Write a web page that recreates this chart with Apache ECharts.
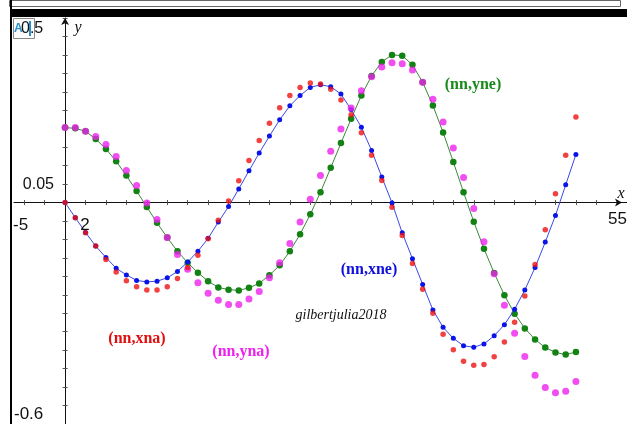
<!DOCTYPE html>
<html>
<head>
<meta charset="utf-8">
<script src="https://cdn.jsdelivr.net/npm/echarts@6/dist/echarts.min.js"></script>
<style>html,body{margin:0;padding:0;background:#fff;}#c{width:627px;height:424px;}</style>
</head>
<body>
<div id="c"></div>
<script>
// nn = 0..50
const nn = [0,1,2,3,4,5,6,7,8,9,10,11,12,13,14,15,16,17,18,19,20,21,22,23,24,25,26,27,28,29,30,31,32,33,34,35,36,37,38,39,40,41,42,43,44,45,46,47,48,49,50];
const xne = [0,-0.041,-0.081,-0.118,-0.149,-0.178,-0.196,-0.211,-0.215,-0.213,-0.204,-0.187,-0.161,-0.132,-0.097,-0.053,-0.011,0.037,0.086,0.134,0.180,0.224,0.262,0.290,0.312,0.319,0.314,0.294,0.252,0.204,0.141,0.069,-0.001,-0.082,-0.152,-0.222,-0.291,-0.338,-0.368,-0.388,-0.392,-0.383,-0.361,-0.331,-0.289,-0.237,-0.176,-0.107,-0.035,0.048,0.130];
const xna = [0,-0.041,-0.082,-0.118,-0.154,-0.188,-0.212,-0.228,-0.237,-0.237,-0.228,-0.206,-0.176,-0.143,-0.098,-0.048,0.004,0.059,0.114,0.168,0.215,0.257,0.290,0.312,0.324,0.321,0.307,0.278,0.238,0.189,0.128,0.060,-0.013,-0.089,-0.165,-0.235,-0.300,-0.357,-0.399,-0.430,-0.441,-0.439,-0.418,-0.378,-0.324,-0.253,-0.168,-0.074,0.024,0.128,0.232];
const yne = [0.203,0.201,0.193,0.172,0.145,0.112,0.073,0.031,-0.012,-0.055,-0.095,-0.132,-0.163,-0.190,-0.213,-0.230,-0.236,-0.238,-0.231,-0.219,-0.197,-0.170,-0.132,-0.086,-0.032,0.028,0.094,0.161,0.227,0.290,0.343,0.381,0.400,0.398,0.373,0.326,0.263,0.190,0.110,0.028,-0.052,-0.125,-0.191,-0.251,-0.301,-0.341,-0.371,-0.393,-0.406,-0.412,-0.405];
const yna = [0.203,0.203,0.193,0.179,0.157,0.125,0.087,0.046,-0.001,-0.046,-0.095,-0.141,-0.181,-0.217,-0.246,-0.265,-0.276,-0.276,-0.261,-0.241,-0.204,-0.163,-0.111,-0.053,0.009,0.073,0.139,0.199,0.256,0.303,0.341,0.367,0.379,0.376,0.359,0.326,0.280,0.218,0.148,0.068,-0.016,-0.106,-0.193,-0.278,-0.354,-0.417,-0.468,-0.501,-0.515,-0.511,-0.485];
const xTicks = [-4,-2,0,2,4,6,8,10,12,14,16,18,20,22,24,26,28,30,32,34,36,38,40,42,44,46,48,50,52,54];
const xMin = -5, xMax = 55, yMin = -0.6, yMax = 0.5, yStep = 0.05;
const seriesNames = ['(nn,xne)','(nn,yne)','(nn,xna)','(nn,yna)'];

function pairs(ys){ return nn.map((n,i)=>[n, ys[i]]); }

const chart = echarts.init(document.getElementById('c'), null, {renderer:'canvas'});
const tickStyle = {color:'#555', width:1};
const serif = '"Liberation Serif", "DejaVu Serif", serif';
const sans = '"Liberation Sans", Arial, sans-serif';
const option = {
  animation:false,
  backgroundColor:'#fff',
  grid:{left:14, right:-2, top:18, bottom:-1, containLabel:false},
  xAxis:[
    {type:'value', min:xMin, max:xMax, position:'bottom',
     axisLine:{show:true, onZero:true, onZeroAxisIndex:0, lineStyle:{color:'#111', width:1}, symbol:['none','arrow'], symbolSize:[6,7], symbolOffset:[0,-5]},
     axisTick:{show:true, customValues:xTicks, length:2.5, lineStyle:tickStyle},
     axisLabel:{show:false}, splitLine:{show:false}},
    {type:'value', min:xMin, max:xMax, position:'top',
     axisLine:{show:false, onZero:true, onZeroAxisIndex:1},
     axisTick:{show:true, customValues:xTicks, length:2.5, lineStyle:tickStyle},
     axisLabel:{show:false}, splitLine:{show:false}}
  ],
  yAxis:[
    {type:'value', min:yMin, max:yMax, interval:yStep, position:'left',
     axisLine:{show:true, onZero:true, onZeroAxisIndex:0, lineStyle:{color:'#111', width:1}, symbol:['none','arrow'], symbolSize:[6,7]},
     axisTick:{show:true, length:2.5, lineStyle:tickStyle},
     axisLabel:{show:false}, splitLine:{show:false}},
    {type:'value', min:yMin, max:yMax, interval:yStep, position:'right',
     axisLine:{show:false, onZero:true, onZeroAxisIndex:1},
     axisTick:{show:true, length:2.5, lineStyle:tickStyle},
     axisLabel:{show:false}, splitLine:{show:false}}
  ],
  series:[
    {name:seriesNames[1], type:'line', data:pairs(yne), symbol:'circle', symbolSize:6.5, showSymbol:true,
     lineStyle:{color:'#3a8a3a', width:1}, itemStyle:{color:'#128212'}, z:2},
    {name:seriesNames[0], type:'line', data:pairs(xne), symbol:'circle', symbolSize:5, showSymbol:true,
     lineStyle:{color:'#3a4ae8', width:1}, itemStyle:{color:'#0a14e6'}, z:3},
    {name:seriesNames[3], type:'scatter', data:pairs(yna), symbolSize:7, itemStyle:{color:'#ee22ee'}, z:4},
    {name:seriesNames[2], type:'scatter', data:pairs(xna), symbolSize:5.5, itemStyle:{color:'#ee1111'}, z:5}
  ],
  graphic:[
    {type:'rect', shape:{x:9.5, y:0.5, width:611, height:6}, style:{fill:'#fff', stroke:'#666', lineWidth:1}, z:100},
    {type:'rect', shape:{x:10, y:9, width:617, height:8}, style:{fill:'#000'}, z:100},
    {type:'rect', shape:{x:10, y:0, width:2, height:424}, style:{fill:'#000'}, z:100},
    {type:'rect', shape:{x:13.5, y:18.5, width:21, height:20}, style:{fill:'rgba(255,255,255,0)', stroke:'#888', lineWidth:1}, z:100},
    {type:'text', x:14, y:29, style:{text:'A', fill:'#2a8fc8', font:'bold 12px '+sans, textVerticalAlign:'middle'}, z:101},
    {type:'text', x:21, y:29, style:{text:'0.5', fill:'#111', font:'16px '+sans, textVerticalAlign:'middle'}, z:101},
    {type:'rect', shape:{x:29, y:21, width:2, height:15}, style:{fill:'#2a8fc8'}, z:102},
    {type:'text', x:78, y:28, style:{text:'y', fill:'#111', font:'italic 16px '+serif, textAlign:'center', textVerticalAlign:'middle'}, z:101},
    {type:'text', x:621, y:194, style:{text:'x', fill:'#111', font:'italic 16px '+serif, textAlign:'center', textVerticalAlign:'middle'}, z:101},
    {type:'text', x:54, y:185, style:{text:'0.05', fill:'#111', font:'16px '+sans, textAlign:'right', textVerticalAlign:'middle'}, z:101},
    {type:'text', x:13, y:225, style:{text:'-5', fill:'#111', font:'17px '+sans, textAlign:'left', textVerticalAlign:'middle'}, z:101},
    {type:'text', x:85, y:225, style:{text:'2', fill:'#111', font:'17px '+sans, textAlign:'center', textVerticalAlign:'middle'}, z:101},
    {type:'text', x:627, y:219, style:{text:'55', fill:'#111', font:'17px '+sans, textAlign:'right', textVerticalAlign:'middle'}, z:101},
    {type:'text', x:14, y:414, style:{text:'-0.6', fill:'#111', font:'17px '+sans, textAlign:'left', textVerticalAlign:'middle'}, z:101},
    {type:'text', x:473, y:85, style:{text:seriesNames[1], fill:'#1a8a1a', font:'bold 16px '+serif, textAlign:'center', textVerticalAlign:'middle'}, z:101},
    {type:'text', x:369, y:270, style:{text:seriesNames[0], fill:'#1010dd', font:'bold 16px '+serif, textAlign:'center', textVerticalAlign:'middle'}, z:101},
    {type:'text', x:137, y:339, style:{text:seriesNames[2], fill:'#e01010', font:'bold 16px '+serif, textAlign:'center', textVerticalAlign:'middle'}, z:101},
    {type:'text', x:241, y:352, style:{text:seriesNames[3], fill:'#ee22ee', font:'bold 16px '+serif, textAlign:'center', textVerticalAlign:'middle'}, z:101},
    {type:'text', x:341, y:315, style:{text:'gilbertjulia2018', fill:'#111', font:'italic 14px '+serif, textAlign:'center', textVerticalAlign:'middle'}, z:101}
  ]
};
chart.setOption(option);
</script>
</body>
</html>
